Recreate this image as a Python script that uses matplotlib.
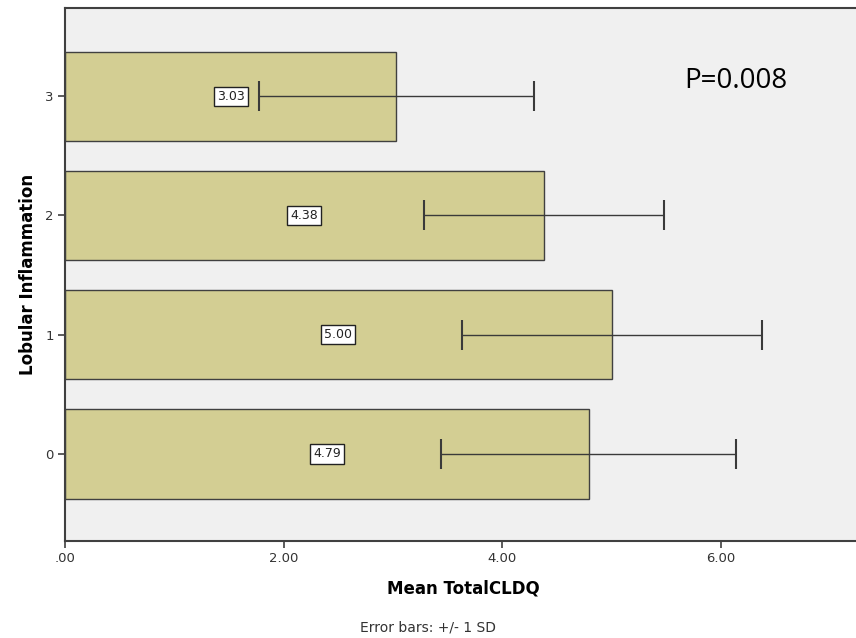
import matplotlib
matplotlib.use("Agg")
import matplotlib.pyplot as plt

# Mean TotalCLDQ by lobular inflammation grade, error bars = 1 SD
grades = [0, 1, 2, 3]
means = [4.79, 5.00, 4.38, 3.03]
sds = [1.35, 1.37, 1.10, 1.26]
xticks = [0, 2, 4, 6]
xticklabels = [".00", "2.00", "4.00", "6.00"]

bar_color = "#d3ce93"
bg_color = "#f0f0f0"
edge = "#404040"

fig = plt.figure(figsize=(8.56, 6.38), dpi=100)
ax = fig.add_axes([0.0759, 0.152, 0.93, 0.8355])
ax.set_facecolor(bg_color)

ax.barh(grades, means, height=0.75, color=bar_color, edgecolor=edge, linewidth=1.0, zorder=2)
ax.errorbar(means, grades, xerr=sds, fmt="none", ecolor="#3a3a3a", elinewidth=1.0,
            capsize=10.5, capthick=1.5, zorder=3)

for g, m in zip(grades, means):
    ax.text(m / 2, g, f"{m:.2f}", ha="center", va="center", fontsize=9, color="#222222",
            bbox=dict(boxstyle="square,pad=0.25", facecolor="white", edgecolor="#222222", linewidth=1.0),
            zorder=4)

ax.set_xlim(0, 7.28)
ax.set_ylim(-0.73, 3.74)
ax.set_xticks(xticks)
ax.set_xticklabels(xticklabels)
ax.set_yticks(grades)
ax.tick_params(axis="both", direction="out", length=5, width=1.2, color=edge,
               labelsize=9.5, labelcolor="#333333", pad=3)

for side in ["left", "bottom", "top"]:
    ax.spines[side].set_color(edge)
    ax.spines[side].set_linewidth(1.5)
ax.spines["right"].set_visible(False)

ax.set_xlabel("Mean TotalCLDQ", fontsize=12, fontweight="bold", labelpad=10)
ax.set_ylabel("Lobular Inflammation", fontsize=12, fontweight="bold", labelpad=6)

ax.text(5.66, 3.13, "P=0.008", fontsize=20, family="Open Sans", color="black", ha="left", va="center")

fig.text(0.5, 0.017, "Error bars: +/- 1 SD", ha="center", va="center", fontsize=10, color="#333333")

fig.savefig("out.png", dpi=100, facecolor="white")
